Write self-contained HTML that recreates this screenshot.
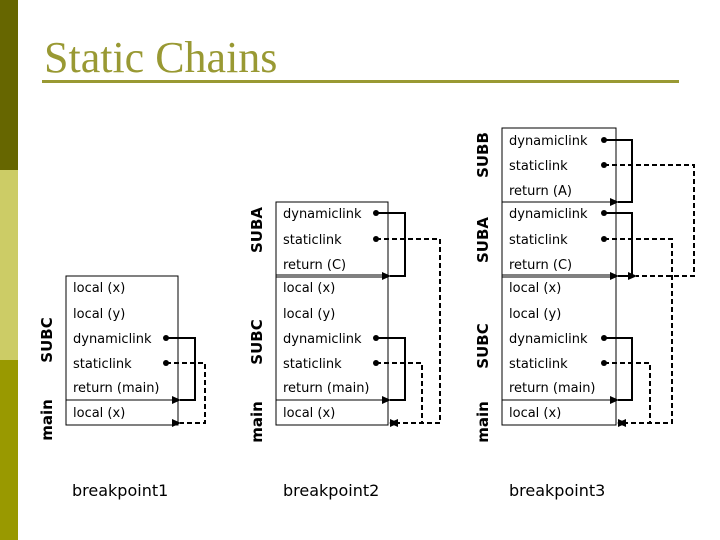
<!DOCTYPE html>
<html><head><meta charset="utf-8"><style>
html,body{margin:0;padding:0;background:#fff;}
svg{display:block;}
.t{font-family:"DejaVu Sans",sans-serif;font-size:13px;fill:#000;}
.l{font-family:"DejaVu Sans",sans-serif;font-size:15px;font-weight:bold;fill:#000;}
.b{font-family:"DejaVu Sans",sans-serif;font-size:16px;fill:#000;}
</style></head><body>
<svg width="720" height="540" viewBox="0 0 720 540" xmlns="http://www.w3.org/2000/svg">
<defs>
<marker id="ah" markerWidth="10" markerHeight="10" refX="1" refY="4" orient="auto" markerUnits="userSpaceOnUse"><path d="M0,4 L9,0 L9,8 z" fill="#000"/></marker>
</defs>
<rect x="0" y="0" width="18" height="170" fill="#666600"/>
<rect x="0" y="170" width="18" height="190" fill="#cccc66"/>
<rect x="0" y="360" width="18" height="180" fill="#999900"/>
<text x="44" y="72" font-family="Liberation Serif,serif" font-size="44" fill="#999933">Static Chains</text>
<rect x="42" y="80" width="637" height="3" fill="#999933"/>

<g stroke="#000" fill="none">
<rect x="66" y="276" width="112" height="149"/>
<line x1="66" y1="400" x2="178" y2="400"/>
<rect x="276" y="202" width="112" height="223"/>
<line x1="276" y1="275" x2="388" y2="275"/><line x1="276" y1="277" x2="388" y2="277"/>
<line x1="276" y1="400" x2="388" y2="400"/>
<rect x="502" y="128" width="114" height="297"/>
<line x1="502" y1="202" x2="616" y2="202"/>
<line x1="502" y1="275" x2="616" y2="275"/><line x1="502" y1="277" x2="616" y2="277"/>
<line x1="502" y1="400" x2="616" y2="400"/>
</g>

<g class="t">
<text x="73" y="292">local (x)</text><text x="73" y="318">local (y)</text><text x="73" y="343">dynamiclink</text><text x="73" y="368">staticlink</text><text x="73" y="392">return (main)</text><text x="73" y="417">local (x)</text>

<text x="283" y="218">dynamiclink</text><text x="283" y="244">staticlink</text><text x="283" y="269">return (C)</text>
<text x="283" y="292">local (x)</text><text x="283" y="318">local (y)</text><text x="283" y="343">dynamiclink</text><text x="283" y="368">staticlink</text><text x="283" y="392">return (main)</text><text x="283" y="417">local (x)</text>

<text x="509" y="145">dynamiclink</text><text x="509" y="170">staticlink</text><text x="509" y="195">return (A)</text>
<text x="509" y="218">dynamiclink</text><text x="509" y="244">staticlink</text><text x="509" y="269">return (C)</text>
<text x="509" y="292">local (x)</text><text x="509" y="318">local (y)</text><text x="509" y="343">dynamiclink</text><text x="509" y="368">staticlink</text><text x="509" y="392">return (main)</text><text x="509" y="417">local (x)</text>
</g>

<g class="l">
<text transform="translate(52,340) rotate(-90)" text-anchor="middle">SUBC</text>
<text transform="translate(52,420) rotate(-90)" text-anchor="middle">main</text>
<text transform="translate(262,230) rotate(-90)" text-anchor="middle">SUBA</text>
<text transform="translate(262,342) rotate(-90)" text-anchor="middle">SUBC</text>
<text transform="translate(262,422) rotate(-90)" text-anchor="middle">main</text>
<text transform="translate(488,155) rotate(-90)" text-anchor="middle">SUBB</text>
<text transform="translate(488,240) rotate(-90)" text-anchor="middle">SUBA</text>
<text transform="translate(488,346) rotate(-90)" text-anchor="middle">SUBC</text>
<text transform="translate(488,422) rotate(-90)" text-anchor="middle">main</text>
</g>

<g class="b">
<text x="72" y="496">breakpoint1</text>
<text x="283" y="496">breakpoint2</text>
<text x="509" y="496">breakpoint3</text>
</g>

<g fill="#000">
<circle cx="166" cy="338" r="3"/><circle cx="166" cy="363" r="3"/>
<circle cx="376" cy="213" r="3"/><circle cx="376" cy="239" r="3"/>
<circle cx="376" cy="338" r="3"/><circle cx="376" cy="363" r="3"/>
<circle cx="604" cy="140" r="3"/><circle cx="604" cy="165" r="3"/>
<circle cx="604" cy="213" r="3"/><circle cx="604" cy="239" r="3"/>
<circle cx="604" cy="338" r="3"/><circle cx="604" cy="363" r="3"/>
</g>

<g stroke="#000" stroke-width="2" fill="none">
<polyline points="166,338 195,338 195,400 180,400" marker-end="url(#ah)"/>
<polyline points="376,213 405,213 405,276 390,276" marker-end="url(#ah)"/>
<polyline points="376,338 405,338 405,400 390,400" marker-end="url(#ah)"/>
<polyline points="604,140 632,140 632,202 618,202" marker-end="url(#ah)"/>
<polyline points="604,213 632,213 632,276 618,276" marker-end="url(#ah)"/>
<polyline points="604,338 632,338 632,400 618,400" marker-end="url(#ah)"/>
</g>
<g stroke="#000" stroke-width="2" fill="none" stroke-dasharray="5,3">
<polyline points="166,363 205,363 205,423 180,423" marker-end="url(#ah)"/>
<polyline points="376,239 440,239 440,423 398,423" marker-end="url(#ah)"/>
<polyline points="376,363 422,363 422,423"/>
<polyline points="604,165 694,165 694,276 636,276" marker-end="url(#ah)"/>
<polyline points="604,239 672,239 672,423 626,423" marker-end="url(#ah)"/>
<polyline points="604,363 650,363 650,423"/>
</g>
<g fill="#000">
<path d="M389,423 L398,419 L398,427 z"/>
<path d="M617,423 L626,419 L626,427 z"/>
</g>
</svg>
</body></html>
